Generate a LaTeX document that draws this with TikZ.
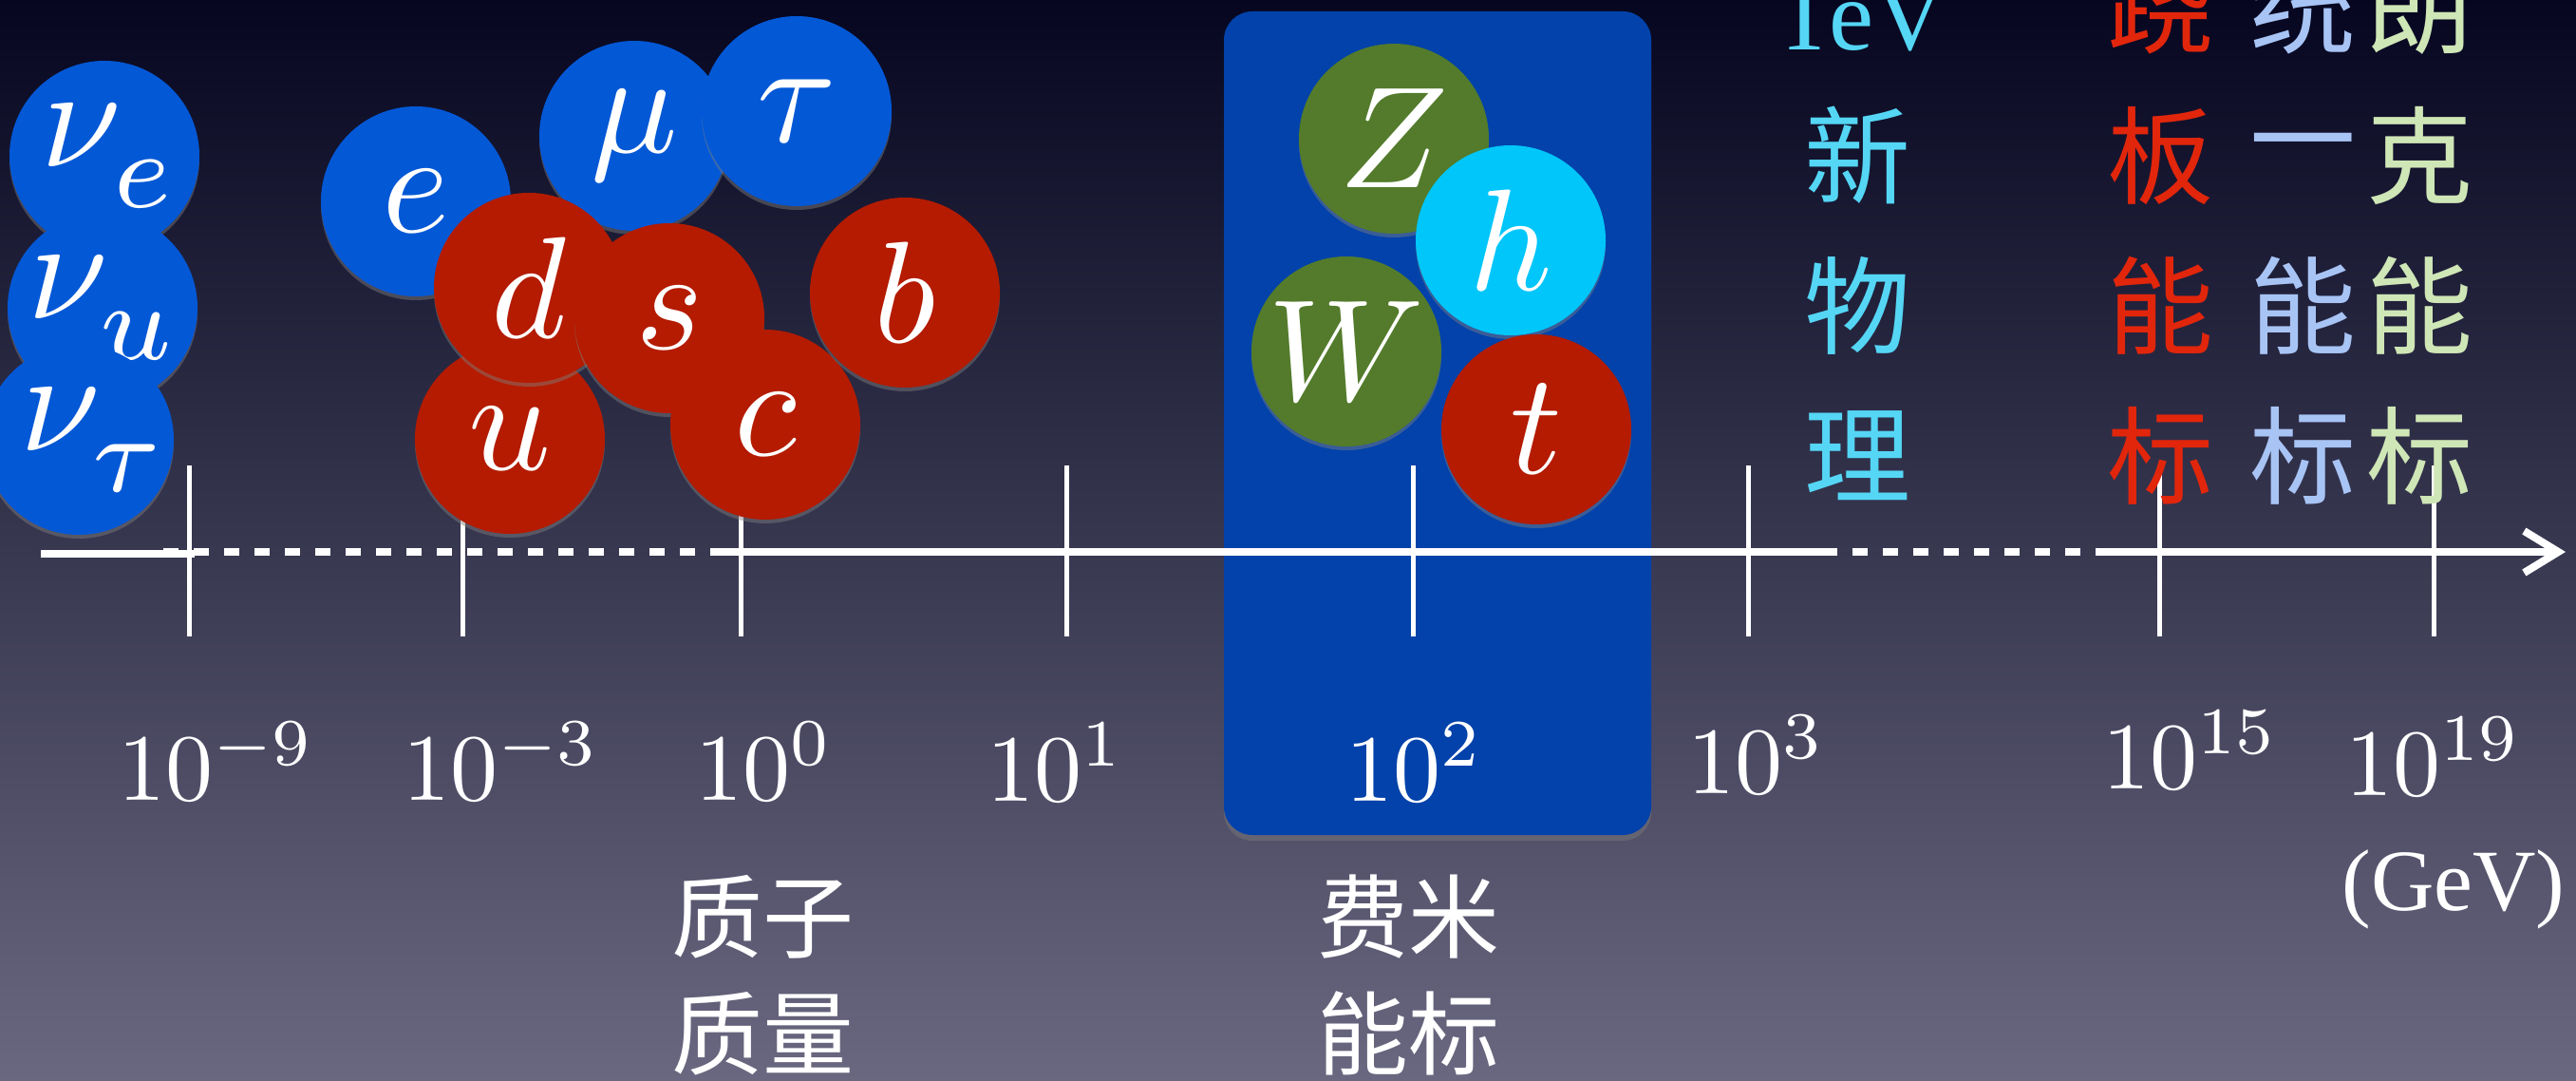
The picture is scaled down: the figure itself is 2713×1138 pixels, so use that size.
\documentclass[tikz,border=0pt]{standalone}
\usepackage{fontspec}
\usepackage{graphicx}
\usetikzlibrary{arrows.meta,shadows}
\newfontfamily\cjk{Noto Sans CJK SC}
\newfontfamily\tms{Liberation Serif}
\newcommand{\partlbl}[1]{\scalebox{7.6}{$#1$}}
\newcommand{\sbs}[1]{\raisebox{-1.3pt}{\scalebox{1.08}{$\scriptstyle #1$}}}
\newcommand{\nulbl}[2]{\makebox[0pt]{\hspace{#1}\partlbl{\nu_{\sbs{#2}}}}}
\newcommand{\ticklbl}[1]{\scalebox{5}{$#1$}}
\definecolor{bgtop}{RGB}{6,6,32}
\definecolor{bgmid}{RGB}{58,56,88}
\definecolor{bgbot}{RGB}{106,104,128}
\definecolor{lepblue}{RGB}{3,88,214}
\definecolor{qred}{RGB}{180,27,0}
\definecolor{bgreen}{RGB}{83,123,43}
\definecolor{hcyan}{RGB}{0,198,250}
\definecolor{boxblue}{RGB}{2,66,170}
\definecolor{tcyan}{RGB}{85,214,245}
\definecolor{tred}{RGB}{225,38,12}
\definecolor{tlblue}{RGB}{168,196,245}
\definecolor{tlgreen}{RGB}{207,230,183}
\tikzset{
  part/.style={circle, minimum size=100pt, inner sep=0pt, text=white,
    drop shadow={opacity=0.45, shadow xshift=0pt, shadow yshift=-2pt}},
  lep/.style={part, fill=lepblue},
  qrk/.style={part, fill=qred},
  bos/.style={part, fill=bgreen},
  hig/.style={part, fill=hcyan},
  axisline/.style={white, line width=4pt},
  dashline/.style={white, line width=4pt, dash pattern=on 8pt off 8pt},
  tick/.style={white, line width=2.5pt},
  ticklabel/.style={anchor=base, text=white, inner sep=0pt},
  cjkbig/.style={inner sep=0pt, font=\cjk\fontsize{56}{60}\selectfont},
  cjksmall/.style={inner sep=0pt, text=white, font=\cjk\fontsize{48}{52}\selectfont}
}
\begin{document}
\begin{tikzpicture}[x=0.5pt, y=-0.5pt]
\useasboundingbox (0,0) rectangle (2713,1138);
\clip (0,0) rectangle (2713,1138);
\shade[top color=bgtop, middle color=bgmid, bottom color=bgbot] (0,0) rectangle (2713,1138);

% electroweak box
\fill[boxblue, rounded corners=15pt, drop shadow={opacity=0.4, shadow xshift=0pt, shadow yshift=-3pt}] (1289,12) rectangle (1739,879);

% axis coordinates
\coordinate (a0) at (43,583);
\coordinate (a1) at (205,583);
\coordinate (d0) at (172,581);
\coordinate (d1) at (749,581);
\coordinate (s1) at (1919,581);
\coordinate (d2) at (2216,581);
\coordinate (tip) at (2702,581);
\draw[axisline] (a0) -- (a1);
\draw[dashline] (d0) -- (d1);
\draw[axisline] (d1) -- (s1);
\draw[dashline] (s1) -- (d2);
\draw[axisline, -{Straight Barb[length=18pt, width=22pt]}] (d2) -- (tip);

% ticks
\foreach \i/\x in {1/199, 2/487, 3/780, 4/1123, 5/1488, 6/1841, 7/2274, 8/2563} {
  \coordinate (tt\i) at (\x,490);
  \coordinate (tb\i) at (\x,670);
  \draw[tick] (tt\i) -- (tb\i);
}

% tick labels
\node[ticklabel] (l1) at (228,842) {\ticklbl{10^{-9}}};
\node[ticklabel] (l2) at (528,842) {\ticklbl{10^{-3}}};
\node[ticklabel] (l3) at (805,842) {\ticklbl{10^{0}}};
\node[ticklabel] (l4) at (1112,843) {\ticklbl{10^{1}}};
\node[ticklabel] (l5) at (1490,843) {\ticklbl{10^{2}}};
\node[ticklabel] (l6) at (1850,835) {\ticklbl{10^{3}}};
\node[ticklabel] (l7) at (2307,830) {\ticklbl{10^{15}}};
\node[ticklabel] (l8) at (2563,837) {\ticklbl{10^{19}}};
\node[anchor=base, text=white, inner sep=0pt, font=\tms\fontsize{46}{50}\selectfont] (gev) at (2584,958) {(GeV)};

% bottom labels
\node[cjksmall] (pm1) at (803,965) {质子};
\node[cjksmall] (pm2) at (803,1088) {质量};
\node[cjksmall] (fm1) at (1483,965) {费米};
\node[cjksmall] (fm2) at (1483,1088) {能标};

% leptons / neutrinos
\node[lep] (ve) at (110,164) {\nulbl{6pt}{e}};
\node[lep] (vu) at (108,324) {\nulbl{2pt}{u}};
\node[lep] (vt) at (83,463) {\nulbl{17pt}{\tau}};
\node[lep] (el) at (438,212) {\partlbl{e}};
\node[lep] (mu) at (668,143) {\partlbl{\mu}};
\node[lep] (ta) at (839,117) {\partlbl{\tau}};
% quarks
\node[qrk] (qu) at (537,462) {\partlbl{u}};
\node[qrk] (qd) at (557,303) {\partlbl{d}};
\node[qrk] (qs) at (705,335) {\partlbl{s}};
\node[qrk] (qc) at (806,447) {\partlbl{c}};
\node[qrk] (qb) at (953,308) {\partlbl{b}};
% bosons and top
\node[bos] (bz) at (1468,146) {\partlbl{Z}};
\node[hig] (bh) at (1591,253) {\partlbl{h}};
\node[bos] (bw) at (1418,370) {\partlbl{W}};
\node[qrk] (qt) at (1618,452) {\partlbl{t}};

% top-right columns
\node[anchor=base, inner sep=0pt, text=tcyan, font=\tms\fontsize{53}{58}\selectfont] (tev) at (1959,53) {TeV};
\node[cjkbig, text=tcyan] (n1) at (1956,163) {新};
\node[cjkbig, text=tcyan] (n2) at (1956,322) {物};
\node[cjkbig, text=tcyan] (n3) at (1956,480) {理};

\node[cjkbig, text=tred] (r0) at (2275,6) {跷};
\node[cjkbig, text=tred] (r1) at (2275,164) {板};
\node[cjkbig, text=tred] (r2) at (2275,322) {能};
\node[cjkbig, text=tred] (r3) at (2275,480) {标};

\node[cjkbig, text=tlblue] (g0) at (2425,6) {统};
\node[cjkbig, text=tlblue] (g1) at (2425,164) {一};
\node[cjkbig, text=tlblue] (g2) at (2425,322) {能};
\node[cjkbig, text=tlblue] (g3) at (2425,480) {标};

\node[cjkbig, text=tlgreen] (p0) at (2548,6) {朗};
\node[cjkbig, text=tlgreen] (p1) at (2548,164) {克};
\node[cjkbig, text=tlgreen] (p2) at (2548,322) {能};
\node[cjkbig, text=tlgreen] (p3) at (2548,480) {标};
\end{tikzpicture}
\end{document}
